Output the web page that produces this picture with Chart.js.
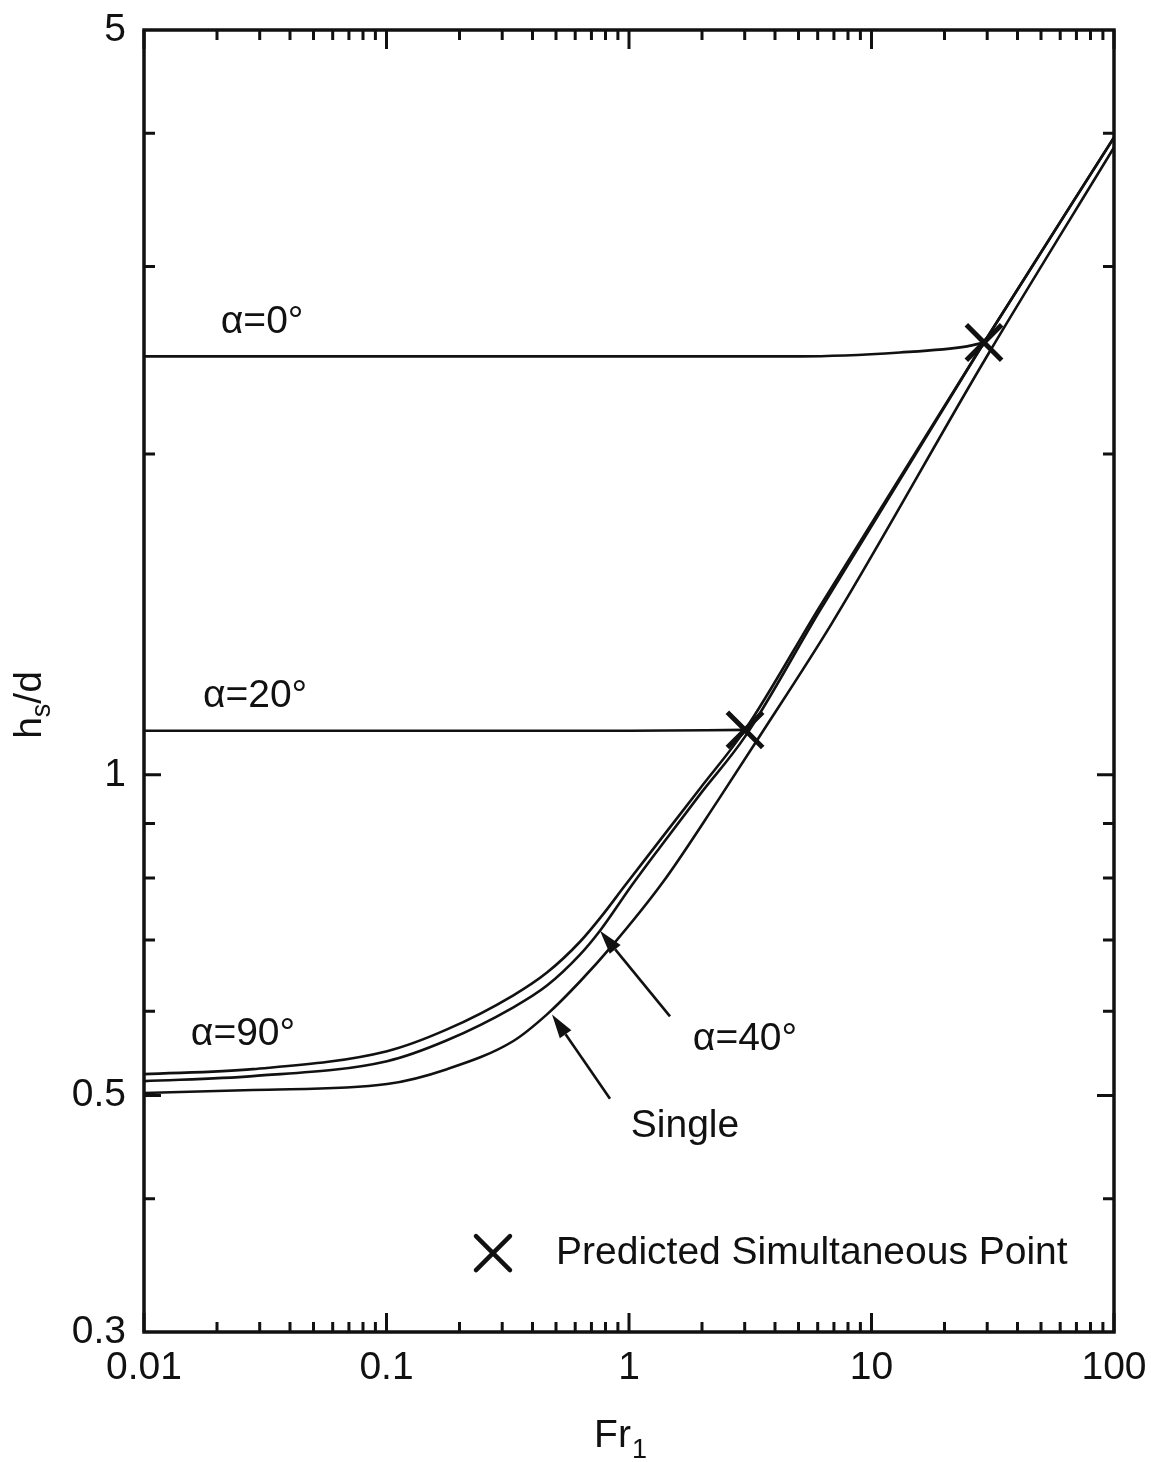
<!DOCTYPE html>
<html><head><meta charset="utf-8">
<script src="https://cdn.jsdelivr.net/npm/chart.js@4.4.1/dist/chart.umd.min.js"></script>
<style>html,body{margin:0;padding:0;background:#fff}#wrap{width:1151px;height:1462px;position:relative}</style>
</head><body><div id="wrap"><canvas id="c"></canvas></div>
<script>
// ---- data (Fr1 vs hs/d) ----
const frSingle = [0.01, 0.0281, 0.1005, 0.1776, 0.3323, 0.459, 0.628, 0.859, 1.381, 2.328, 3.469, 6.871, 30.22, 100];
const hsSingle = [0.5028, 0.5061, 0.5127, 0.5294, 0.5623, 0.5959, 0.6398, 0.6928, 0.7932, 0.9463, 1.088, 1.388, 2.480, 3.879];

const fr90 = [0.01, 0.0281, 0.1005, 0.1776, 0.3323, 0.459, 0.628, 0.796, 0.945, 1.343, 1.963, 3.009, 6.134, 29.1, 100];
const hs90 = [0.5237, 0.5294, 0.5504, 0.5769, 0.6207, 0.6523, 0.6972, 0.7437, 0.7830, 0.8684, 0.9710, 1.102, 1.440, 2.545, 3.964];

const fr40 = [0.01, 0.0281, 0.1005, 0.1776, 0.3323, 0.459, 0.628, 0.759, 1.029, 1.343, 1.963, 3.009, 6.134, 29.1, 100];
const hs40 = [0.5159, 0.5215, 0.5386, 0.5635, 0.6048, 0.6342, 0.6780, 0.7139, 0.7881, 0.8553, 0.9586, 1.086, 1.427, 2.545, 3.964];

const fr20 = [0.01, 0.1, 1.0, 3.009];
const hs20 = [1.100, 1.100, 1.100, 1.102];

const fr0 = [0.01, 0.1, 1.0, 5.07, 13.1, 24.8, 29.1];
const hs0 = [2.470, 2.470, 2.470, 2.470, 2.491, 2.524, 2.545];

const frSim = [29.1, 3.009];
const hsSim = [2.545, 1.102];

// ---- ticks ----
const xTickValues = [0.01, 0.1, 1, 10, 100];
const xTickLabels = ['0.01', '0.1', '1', '10', '100'];
const xMinorTicks = [0.02,0.03,0.04,0.05,0.06,0.07,0.08,0.09, 0.2,0.3,0.4,0.5,0.6,0.7,0.8,0.9, 2,3,4,5,6,7,8,9, 20,30,40,50,60,70,80,90];
const yTickValues = [5, 1, 0.5, 0.3];
const yTickLabels = ['5', '1', '0.5', '0.3'];
const yMajorTicks = [1, 0.5];
const yMinorTicks = [4, 3, 2, 0.9, 0.8, 0.7, 0.6, 0.4];

// ---- annotations (in data coordinates) ----
const notes = [
  {text: 'α=0°',  fr: 0.0307, hs: 2.657},
  {text: 'α=20°', fr: 0.0287, hs: 1.186},
  {text: 'α=90°', fr: 0.0256, hs: 0.571},
  {text: 'α=40°', fr: 3.008, hs: 0.5648},
  {text: 'Single', fr: 1.702, hs: 0.4684}
];
const arrows = [
  {from: [1.476, 0.5934], to: [0.7592, 0.7139]},
  {from: [0.835, 0.4965], to: [0.4814, 0.5959]}
];
const legendAnchor = {markFr: 0.2749, textFr: 0.5, hs: 0.3557, text: 'Predicted Simultaneous Point'};

const FONT = '"Liberation Sans", Arial, Helvetica, sans-serif';
const INK = '#111';
const FS = 39;

const pts = (xs, ys) => xs.map((x, i) => ({x, y: ys[i]}));
const curve = (label, xs, ys) => ({
  label, data: pts(xs, ys), showLine: true, pointRadius: 0,
  borderColor: INK, borderWidth: 2.6, cubicInterpolationMode: 'monotone', fill: false
});

const decor = {
  id: 'decor',
  afterDatasetsDraw(chart) {
    const {ctx, chartArea: a, scales: {x, y}} = chart;
    ctx.save();
    ctx.strokeStyle = INK; ctx.fillStyle = INK; ctx.lineCap = 'butt';
    // frame
    ctx.lineWidth = 3.5;
    ctx.strokeRect(a.left, a.top, a.right - a.left, a.bottom - a.top);
    // inside ticks
    ctx.lineWidth = 3;
    const xt = (v, len) => {
      const px = x.getPixelForValue(v);
      ctx.beginPath();
      ctx.moveTo(px, a.bottom); ctx.lineTo(px, a.bottom - len);
      ctx.moveTo(px, a.top); ctx.lineTo(px, a.top + len);
      ctx.stroke();
    };
    const yt = (v, len) => {
      const py = y.getPixelForValue(v);
      ctx.beginPath();
      ctx.moveTo(a.left, py); ctx.lineTo(a.left + len, py);
      ctx.moveTo(a.right, py); ctx.lineTo(a.right - len, py);
      ctx.stroke();
    };
    xTickValues.forEach(v => xt(v, 19));
    xMinorTicks.forEach(v => xt(v, 10));
    yMajorTicks.forEach(v => yt(v, 17));
    yMinorTicks.forEach(v => yt(v, 11));

    // annotations
    ctx.font = FS + 'px ' + FONT;
    ctx.textAlign = 'center'; ctx.textBaseline = 'middle';
    notes.forEach(n => ctx.fillText(n.text, x.getPixelForValue(n.fr), y.getPixelForValue(n.hs)));

    // arrows
    ctx.lineWidth = 2.6;
    arrows.forEach(ar => {
      const x0 = x.getPixelForValue(ar.from[0]), y0 = y.getPixelForValue(ar.from[1]);
      const x1 = x.getPixelForValue(ar.to[0]), y1 = y.getPixelForValue(ar.to[1]);
      const ang = Math.atan2(y1 - y0, x1 - x0);
      const hl = 24, hw = 7;
      const bx = x1 - hl * Math.cos(ang), by = y1 - hl * Math.sin(ang);
      ctx.beginPath(); ctx.moveTo(x0, y0); ctx.lineTo(bx, by); ctx.stroke();
      ctx.beginPath();
      ctx.moveTo(x1, y1);
      ctx.lineTo(bx + hw * Math.sin(ang), by - hw * Math.cos(ang));
      ctx.lineTo(bx - hw * Math.sin(ang), by + hw * Math.cos(ang));
      ctx.closePath(); ctx.fill();
    });

    // legend
    const lx = x.getPixelForValue(legendAnchor.markFr), ly = y.getPixelForValue(legendAnchor.hs);
    ctx.lineWidth = 4.5; ctx.lineCap = 'round';
    const r = 17;
    ctx.beginPath();
    ctx.moveTo(lx - r, ly - r); ctx.lineTo(lx + r, ly + r);
    ctx.moveTo(lx + r, ly - r); ctx.lineTo(lx - r, ly + r);
    ctx.stroke();
    ctx.textAlign = 'left';
    ctx.fillText(legendAnchor.text, x.getPixelForValue(legendAnchor.textFr), ly);

    // axis titles
    ctx.textBaseline = 'alphabetic';
    ctx.font = FS + 'px ' + FONT;
    const w1 = ctx.measureText('Fr').width;
    ctx.font = '27px ' + FONT;
    const w2 = ctx.measureText('1').width;
    const cx = (a.left + a.right) / 2 - 9;
    const bx0 = cx - (w1 + w2) / 2;
    ctx.font = FS + 'px ' + FONT; ctx.textAlign = 'left';
    ctx.fillText('Fr', bx0, a.bottom + 115);
    ctx.font = '27px ' + FONT;
    ctx.fillText('1', bx0 + w1 + 1, a.bottom + 126);

    ctx.save();
    ctx.translate(41, 705);
    ctx.rotate(-Math.PI / 2);
    ctx.font = FS + 'px ' + FONT;
    const hW = ctx.measureText('h').width, dW = ctx.measureText('/d').width;
    ctx.font = '27px ' + FONT;
    const sW = ctx.measureText('s').width;
    let sx = -(hW + sW + dW) / 2;
    ctx.font = FS + 'px ' + FONT;
    ctx.fillText('h', sx, 0);
    ctx.font = '27px ' + FONT;
    ctx.fillText('s', sx + hW, 9);
    ctx.font = FS + 'px ' + FONT;
    ctx.fillText('/d', sx + hW + sW, 0);
    ctx.restore();

    ctx.restore();
  }
};

new Chart(document.getElementById('c'), {
  type: 'scatter',
  data: {
    datasets: [
      curve('Single', frSingle, hsSingle),
      curve('α=90°', fr90, hs90),
      curve('α=40°', fr40, hs40),
      curve('α=20°', fr20, hs20),
      curve('α=0°', fr0, hs0),
      {
        label: 'Predicted Simultaneous Point', data: pts(frSim, hsSim), showLine: false,
        pointStyle: 'crossRot', pointRadius: 25, pointBorderWidth: 5,
        pointBorderColor: INK, pointBackgroundColor: INK, borderColor: INK
      }
    ]
  },
  options: {
    responsive: true, maintainAspectRatio: false, animation: false, events: [],
    layout: {padding: {top: 24, right: 37, left: 0, bottom: 0}},
    plugins: {legend: {display: false}, tooltip: {enabled: false}},
    scales: {
      x: {
        type: 'logarithmic', min: 0.01, max: 100,
        grid: {display: false, drawTicks: false}, border: {display: false},
        afterBuildTicks: s => { s.ticks = xTickValues.map(v => ({value: v})); },
        afterFit: s => { s.height = 130; s.paddingLeft = 0; s.paddingRight = 0; },
        ticks: {
          autoSkip: false, maxRotation: 0, padding: 13, color: INK,
          font: {family: FONT, size: FS},
          callback: (v) => { const i = xTickValues.indexOf(v); return i >= 0 ? xTickLabels[i] : ''; }
        }
      },
      y: {
        type: 'logarithmic', min: 0.3, max: 5,
        grid: {display: false, drawTicks: false}, border: {display: false},
        afterBuildTicks: s => { s.ticks = yTickValues.map(v => ({value: v})); },
        afterFit: s => { s.width = 144; s.paddingTop = 0; s.paddingBottom = 0; },
        ticks: {
          autoSkip: false, padding: 18, color: INK,
          font: {family: FONT, size: FS},
          callback: (v) => { const i = yTickValues.indexOf(v); return i >= 0 ? yTickLabels[i] : ''; }
        }
      }
    }
  },
  plugins: [decor]
});
</script></body></html>
